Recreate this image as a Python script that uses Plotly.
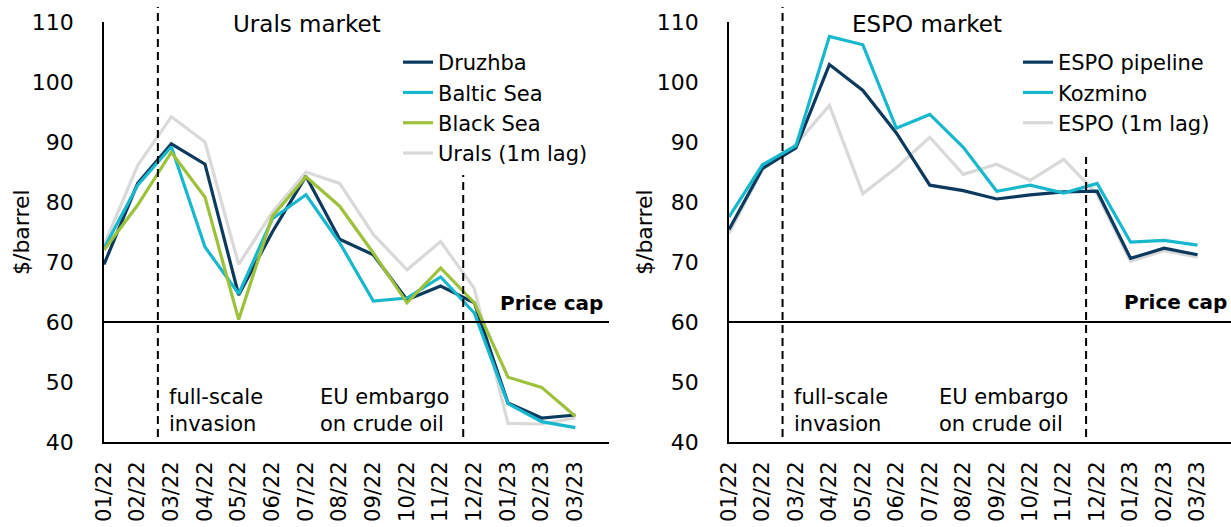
import plotly.graph_objects as go

# ---------------- data ----------------
months = ["01/22", "02/22", "03/22", "04/22", "05/22", "06/22", "07/22", "08/22",
          "09/22", "10/22", "11/22", "12/22", "01/23", "02/23", "03/23"]

druzhba = [69.6, 83.1, 89.7, 86.3, 64.5, 75.0, 84.3, 73.8, 71.2, 63.7, 66.0, 63.2, 46.5, 44.0, 44.5]
baltic_sea = [72.3, 82.8, 89.2, 72.5, 64.7, 77.2, 81.2, 73.2, 63.5, 64.0, 67.5, 61.5, 46.4, 43.4, 42.4]
black_sea = [72.0, 79.5, 88.3, 80.8, 60.4, 77.6, 84.2, 79.3, 71.5, 63.2, 69.0, 63.2, 50.8, 49.1, 44.3]
urals_lag = [72.8, 86.1, 94.2, 90.0, 69.6, 78.3, 85.0, 83.1, 74.6, 68.7, 73.4, 65.6, 43.1, 43.0, 44.0]

espo_pipeline = [75.4, 85.6, 89.0, 102.9, 98.6, 91.5, 82.8, 81.9, 80.5, 81.2, 81.7, 81.8, 70.6, 72.3, 71.2]
kozmino = [77.5, 86.2, 89.4, 107.6, 106.2, 92.3, 94.6, 89.1, 81.8, 82.8, 81.5, 83.1, 73.3, 73.6, 72.8]
espo_lag = [74.8, 85.4, 89.6, 96.1, 81.4, 85.7, 90.8, 84.6, 86.3, 83.6, 87.1, 81.3, 70.1, 71.9, 70.8]

price_cap = 60
event_positions = [1.6, 10.67]          # in month-index units
event_labels = ["full-scale<br>invasion", "EU embargo<br>on crude oil"]

# ---------------- style ----------------
W, H = 1231, 527
FONT = "DejaVu Sans, Arial, sans-serif"
NAVY, CYAN, GREEN, GRAY = "#0B3A5E", "#17B8CE", "#9DC13B", "#D9D9D9"
LW = 3.2


def px(x):
    return x / W


def py(y):
    return (H - y) / H


idx = list(range(len(months)))

fig = go.Figure()

# left panel (Urals); gray drawn first so it sits underneath
left_series = [
    ("Urals (1m lag)", urals_lag, GRAY, 4),
    ("Druzhba", druzhba, NAVY, 1),
    ("Baltic Sea", baltic_sea, CYAN, 2),
    ("Black Sea", black_sea, GREEN, 3),
]
for name, vals, col, rank in left_series:
    fig.add_trace(go.Scatter(x=idx, y=vals, name=name, mode="lines",
                             line=dict(color=col, width=LW),
                             xaxis="x", yaxis="y", legend="legend", legendrank=rank))

right_series = [
    ("ESPO (1m lag)", espo_lag, GRAY, 3),
    ("ESPO pipeline", espo_pipeline, NAVY, 1),
    ("Kozmino", kozmino, CYAN, 2),
]
for name, vals, col, rank in right_series:
    fig.add_trace(go.Scatter(x=idx, y=vals, name=name, mode="lines",
                             line=dict(color=col, width=LW),
                             xaxis="x2", yaxis="y2", legend="legend2", legendrank=rank))

ydom = [py(442), py(22)]
axis_common = dict(showgrid=False, zeroline=False, showline=True, linecolor="black",
                   automargin=False,
                   tickfont=dict(family=FONT, size=22, color="black"))
xcommon = dict(axis_common, range=[0, 15], tickmode="array", tickvals=idx, ticktext=months,
               tickangle=-90, ticks="", ticklabelstandoff=9, linewidth=2,
               tickfont=dict(family=FONT, size=21, color="black"))
ycommon = dict(axis_common, range=[40, 110], dtick=10, tick0=40, ticks="",
               ticklabelstandoff=24, linewidth=1.5)

fig.update_layout(
    template="none",
    width=W, height=H,
    margin=dict(l=0, r=0, t=0, b=0, pad=0),
    paper_bgcolor="white", plot_bgcolor="white",
    font=dict(family=FONT, color="black"),
    xaxis=dict(xcommon, domain=[px(104), px(609)], anchor="y"),
    yaxis=dict(ycommon, domain=ydom, anchor="x"),
    xaxis2=dict(xcommon, domain=[px(729), 1.0], anchor="y2"),
    yaxis2=dict(ycommon, domain=ydom, anchor="x2"),
    legend=dict(x=px(398), y=py(42), xanchor="left", yanchor="top",
                font=dict(family=FONT, size=21, color="black"),
                bgcolor="rgba(0,0,0,0)", tracegroupgap=0),
    legend2=dict(x=px(1018), y=py(42), xanchor="left", yanchor="top",
                 font=dict(family=FONT, size=21, color="black"),
                 bgcolor="rgba(0,0,0,0)", tracegroupgap=0),
    showlegend=True,
)

shapes = []
annotations = []
for xa, ya in [("x", "y"), ("x2", "y2")]:
    # price cap line
    shapes.append(dict(type="line", xref=f"{xa} domain", yref=ya, x0=0, x1=1,
                       y0=price_cap, y1=price_cap, line=dict(color="black", width=2)))
    # event lines
    tops = [py(7), py(175) if xa == "x" else py(157)]
    for pos, top in zip(event_positions, tops):
        shapes.append(dict(type="line", xref=xa, yref="paper", x0=pos, x1=pos,
                           y0=py(437), y1=top,
                           line=dict(color="black", width=2, dash="8px,5px")))
fig.update_layout(shapes=shapes)

afont = dict(family=FONT, size=21, color="black")
tfont = dict(family=FONT, size=23, color="black")
# panel titles
annotations.append(dict(text="Urals market", xref="paper", yref="paper", x=px(231), y=py(24),
                        xanchor="left", yanchor="middle", showarrow=False, font=tfont))
annotations.append(dict(text="ESPO market", xref="paper", yref="paper", x=px(850), y=py(24),
                        xanchor="left", yanchor="middle", showarrow=False, font=tfont))
# y-axis titles
for xc in [22, 645]:
    annotations.append(dict(text="$/barrel", xref="paper", yref="paper", x=px(xc), y=py(232),
                            xanchor="center", yanchor="middle", textangle=-90, showarrow=False,
                            font=dict(family=FONT, size=22, color="black")))
# event labels
for xl, txt in zip([167, 318, 792, 937], event_labels * 2):
    annotations.append(dict(text=txt, xref="paper", yref="paper", x=px(xl), y=py(410),
                            xanchor="left", yanchor="middle", align="left", showarrow=False,
                            font=afont))
# price cap labels
for xr, yc in [(605, 303), (1229, 302)]:
    annotations.append(dict(text="<b>Price cap</b>", xref="paper", yref="paper", x=px(xr), y=py(yc),
                            xanchor="right", yanchor="middle", showarrow=False,
                            font=dict(family=FONT, size=20, color="black")))
fig.update_layout(annotations=annotations)

fig.write_html("out.html", config={"displayModeBar": False},
               post_script="document.body.style.margin='0';document.body.style.overflow='hidden';")
